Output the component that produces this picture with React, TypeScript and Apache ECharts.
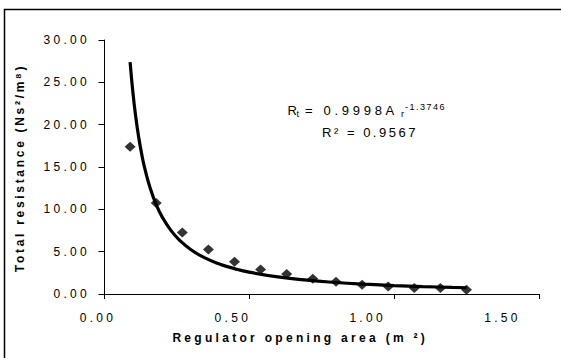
import React, { useEffect, useRef } from "react";
import * as echarts from "echarts";

// Measured data (regulator opening area in m², total resistance)
const areaOpening = [0.09, 0.18, 0.27, 0.36, 0.45, 0.54, 0.63, 0.72, 0.8, 0.89, 0.98, 1.07, 1.16, 1.25];
const totalResistance = [17.4, 10.75, 7.25, 5.25, 3.8, 2.9, 2.35, 1.8, 1.45, 1.1, 0.9, 0.7, 0.7, 0.5];

// Power trendline Rt = 0.9998 Ar^-1.3746
const trendArea = [0.09, 0.1, 0.11, 0.12, 0.13, 0.14, 0.16, 0.18, 0.2, 0.23, 0.26, 0.3, 0.35, 0.4, 0.45, 0.5, 0.6, 0.7, 0.8, 0.9, 1.0, 1.1, 1.2, 1.25];
const trendResistance = [27.38, 23.69, 20.78, 18.44, 16.52, 14.92, 12.42, 10.56, 9.14, 7.54, 6.37, 5.23, 4.23, 3.52, 3.0, 2.59, 2.02, 1.63, 1.36, 1.16, 1.0, 0.877, 0.778, 0.736];

const xAxisTitle = "Regulator opening area (m ²)";
const yAxisTitle = "Total resistance (Ns²/m⁸)";
const eqMain = "= 0.9998A";
const eqExp = "-1.3746";
const r2Text = "R² = 0.9567";

const FONT = "'Liberation Sans', Arial, sans-serif";

const SPACING: Record<string, number> = {
  [xAxisTitle]: 3.3,
  [yAxisTitle]: 2.7,
  [eqMain]: 3.7,
  [eqExp]: 1.5,
  [r2Text]: 2.5,
};

function applySpacing(root: HTMLElement) {
  root.querySelectorAll("text").forEach((t) => {
    const s = (t.textContent || "").trim();
    let ls = SPACING[s];
    if (ls === undefined) ls = /^\d+\.\d\d$/.test(s) ? 3.3 : 0;
    (t as SVGTextElement).style.letterSpacing = ls + "px";
  });
}

export default function App() {
  const ref = useRef<HTMLDivElement>(null);
  useEffect(() => {
    if (!ref.current) return;
    const chart = echarts.init(ref.current, null, { renderer: "svg" });
    const labelStyle = { color: "#000", fontSize: 12, fontFamily: FONT };
    chart.setOption({
      animation: false,
      backgroundColor: "#fff",
      grid: [
        { left: 104, right: 22, top: 40, bottom: 64, containLabel: false, outerBoundsMode: "none" },
        { left: 98, right: 58.5, top: 40, bottom: 64, containLabel: false, outerBoundsMode: "none" },
      ],
      xAxis: [
        {
          type: "value",
          gridIndex: 0,
          min: 0,
          max: 1.5,
          interval: 0.5,
          axisLine: { lineStyle: { color: "#000", width: 1 } },
          axisTick: { show: true, length: 5, lineStyle: { color: "#000" } },
          axisLabel: { show: false },
          splitLine: { show: false },
        },
        {
          type: "value",
          gridIndex: 1,
          min: 0,
          max: 1.5,
          interval: 0.5,
          axisLine: { show: false },
          axisTick: { show: false },
          splitLine: { show: false },
          axisLabel: { ...labelStyle, margin: 18, formatter: (v: number) => v.toFixed(2) },
          name: xAxisTitle,
          nameLocation: "middle",
          nameGap: 38,
          nameTextStyle: { color: "#000", fontSize: 12, fontWeight: "bold", fontFamily: FONT },
        },
      ],
      yAxis: [
        {
          type: "value",
          gridIndex: 0,
          min: 0,
          max: 30,
          interval: 5,
          axisLine: { show: true, lineStyle: { color: "#000", width: 1 } },
          axisTick: { show: true, length: 5.5, lineStyle: { color: "#000" } },
          axisLabel: { ...labelStyle, margin: 14, formatter: (v: number) => v.toFixed(2) },
          splitLine: { show: false },
        },
        { type: "value", gridIndex: 1, min: 0, max: 30, show: false },
      ],
      series: [
        {
          type: "scatter",
          xAxisIndex: 0,
          yAxisIndex: 0,
          silent: true,
          symbol: "diamond",
          symbolSize: [11, 10],
          itemStyle: { color: "#000" },
          data: areaOpening.map((x, i) => [x, totalResistance[i]]),
        },
        {
          type: "line",
          xAxisIndex: 0,
          yAxisIndex: 0,
          silent: true,
          showSymbol: false,
          smooth: true,
          lineStyle: { color: "#000", width: 3.2 },
          data: trendArea.map((x, i) => [x, trendResistance[i]]),
        },
      ],
      graphic: [
        {
          type: "rect",
          silent: true,
          shape: { x: 4.5, y: 9.5, width: 570, height: 360 },
          style: { fill: "none", stroke: "#000", lineWidth: 1.5 },
        },
        {
          type: "text",
          x: 20,
          y: 168,
          rotation: Math.PI / 2,
          silent: true,
          style: { text: yAxisTitle, align: "center", verticalAlign: "middle", fill: "#000", font: `bold 12px ${FONT}` },
        },
        { type: "text", x: 287.5, y: 110.2, silent: true, style: { text: "R", verticalAlign: "middle", fill: "#000", font: `13px ${FONT}` } },
        { type: "text", x: 296.5, y: 114, silent: true, style: { text: "t", verticalAlign: "middle", fill: "#000", font: `9px ${FONT}` } },
        { type: "text", x: 305, y: 110.2, silent: true, style: { text: eqMain, verticalAlign: "middle", fill: "#000", font: `13px ${FONT}` } },
        { type: "text", x: 401, y: 114, silent: true, style: { text: "r", verticalAlign: "middle", fill: "#000", font: `9px ${FONT}` } },
        { type: "text", x: 405, y: 106.5, silent: true, style: { text: eqExp, verticalAlign: "middle", fill: "#000", font: `9px ${FONT}` } },
        { type: "text", x: 370, y: 132.8, silent: true, style: { text: r2Text, align: "center", verticalAlign: "middle", fill: "#000", font: `13px ${FONT}` } },
      ],
    });
    const el = ref.current;
    applySpacing(el);
    const onFinished = () => applySpacing(el);
    chart.on("finished", onFinished);
    const raf = requestAnimationFrame(() => applySpacing(el));
    return () => {
      cancelAnimationFrame(raf);
      chart.dispose();
    };
  }, []);
  return <div ref={ref} style={{ width: 561, height: 358, position: "absolute", left: 0, top: 0 }} />;
}
